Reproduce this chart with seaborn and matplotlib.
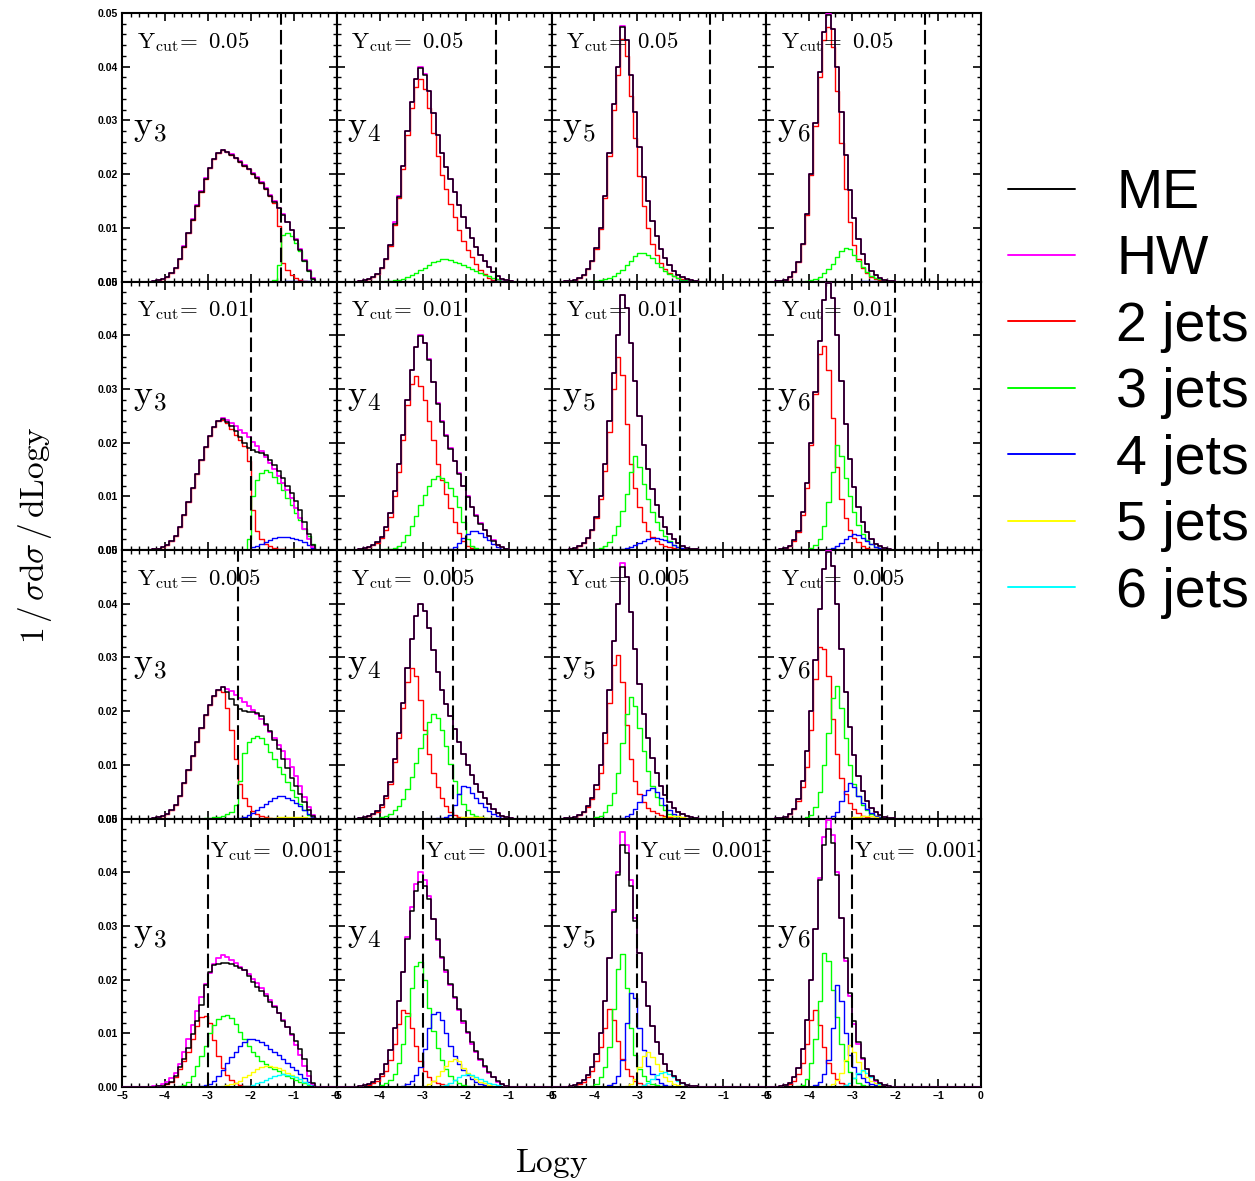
import numpy as np
import pandas as pd
import matplotlib
matplotlib.use("Agg")
import matplotlib.pyplot as plt
from matplotlib.lines import Line2D
from matplotlib.ticker import MultipleLocator, FormatStrFormatter
import seaborn as sns

# ---------------------------------------------------------------------------
# Binning: 50 bins of width 0.1 in log10(y) from -5 to 0.
# Every series below lists bin contents (units of 1e-3) starting at the
# first bin [-5.0, -4.9]; missing trailing bins are empty.
# ---------------------------------------------------------------------------
EDGES = np.round(np.linspace(-5.0, 0.0, 51), 3)
CENTERS = 0.5 * (EDGES[:-1] + EDGES[1:])

CUTS = [0.05, 0.01, 0.005, 0.001]
CUT_TEXT = ["0.05", "0.01", "0.005", "0.001"]
ORDERS = ["3", "4", "5", "6"]

SERIES_NAMES = ["ME", "HW", "2 jets", "3 jets", "4 jets", "5 jets", "6 jets"]
SERIES_COLORS = ["#000000", "#ff00ff", "#ff0000", "#00ff00", "#0000ff", "#ffff00", "#00ffff"]

# ---------------- Herwig (independent of the merging cut) ----------------
hw_y3 = [0]*7 + [0.1,0.2,0.5,0.9,1.6,2.6,4.2,6.6,9.0,11.6, 14.2,16.8,19.2,21.2,22.9,24.0,24.5,24.2,23.7,23.0,
                 22.4,21.7,21.0,20.2,19.4,18.5,17.4,16.2,15.0,13.7, 12.5,11.1,9.6,7.9,6.0,4.0,2.1,0.6]
hw_y4 = [0]*5 + [0.1,0.3,0.5,0.9,1.4,2.5,4.2,6.8,11.0,16.0, 21.5,28.0,33.5,37.8,40.0,38.6,
                 35.5,31.3,27.3,24.0,21.4,19.0,16.6,14.3,12.0,10.0, 8.1,6.5,5.0,3.8,2.7,1.8,1.0,0.5,0.2,0.05]
hw_y5 = [0]*3 + [0.05,0.15,0.3,0.7,1.3,2.3,3.8,6.2,10.0,16.0, 24.0,33.0,40.0,47.5,45.0,38.5,31.5,25.0,19.5,15.0,
                 11.3,8.4,6.1,4.3,3.0,2.0,1.3,0.8,0.45,0.25, 0.1]
hw_y6 = [0]*2 + [0.05,0.15,0.35,0.8,1.8,3.6,7.0,12.5,20.0,29.5, 39.0,46.5,49.8,47.0,40.0,31.5,23.5,17.0,11.8,8.0,
                 5.2,3.3,2.0,1.2,0.7,0.35,0.15,0.05]

# ---------------- y3 ----------------
me_y3_c050 = [0]*7 + [0.1,0.2,0.5,0.9,1.6,2.6,4.1,6.5,9.0,11.5, 14.1,16.7,19.1,21.1,22.9,24.0,24.4,24.1,23.6,23.0,
                      22.3,21.6,20.9,20.1,19.3,18.4,17.2,16.0,14.8,13.6, 12.4,11.0,9.5,7.8,5.9,3.9,2.0,0.5]
j2_y3_c050 = [0]*7 + [0.1,0.2,0.5,0.9,1.6,2.6,4.1,6.5,9.0,11.5, 14.1,16.7,19.1,21.1,22.9,24.0,24.4,24.1,23.6,23.0,
                      22.3,21.6,20.9,20.1,19.3,18.4,17.2,16.0,14.6,10.3, 3.5,2.2,1.2,0.6,0.2,0.05]
j3_y3_c050 = [0]*35 + [0.3,3.0,8.6,9.1,8.4,7.2,5.7,3.9,2.0,0.5]
j4_y3_c050 = [0]*38 + [0.05,0.1,0.1,0.1,0.1,0.05]

me_y3_c010 = [0]*7 + [0.1,0.2,0.5,0.9,1.6,2.6,4.2,6.6,9.0,11.6, 14.2,16.8,19.2,21.2,22.9,24.0,
                      24.4,23.9,23.1,22.2,21.0,20.0,19.0,18.6,18.3,18.0, 17.6,16.8,15.8,14.7,13.4,12.0,10.6,9.1,7.5,5.2,
                      3.0,0.9]
j2_y3_c010 = [0]*7 + [0.1,0.2,0.5,0.9,1.6,2.6,4.2,6.6,9.0,11.6, 14.2,16.8,19.2,21.2,22.9,24.0,
                      24.3,23.6,22.6,21.5,20.5,19.3,16.5,7.5,3.5,2.0, 1.2,0.7,0.4,0.2,0.1]
j3_y3_c010 = [0]*29 + [2.0,10.0,13.0,14.3,14.9,14.6,13.6,12.4,11.1,9.7, 8.3,6.9,5.5,4.0,2.6,1.1]
j4_y3_c010 = [0]*30 + [0.5,0.7,1.1,1.5,1.9,2.2,2.35,2.4,2.4,2.3, 2.1,1.8,1.4,0.9,0.4]
j5_y3_c010 = [0]*38 + [0.05,0.1,0.1,0.1,0.05]

me_y3_c005 = [0]*7 + [0.1,0.2,0.5,0.9,1.6,2.6,4.2,6.6,9.0,11.6, 14.2,16.8,19.2,21.2,22.9,24.0,
                      24.4,23.5,22.3,21.2,20.3,20.0,19.9,19.8,19.6,19.0, 17.6,16.3,14.7,12.9,11.0,9.4,7.6,6.0,4.5,3.0,
                      1.6,0.5]
j2_y3_c005 = [0]*7 + [0.1,0.2,0.5,0.9,1.6,2.6,4.2,6.6,9.0,11.6, 14.2,16.8,19.2,21.2,22.9,
                      24.0,23.5,20.5,16.5,11.0,6.5,3.8,2.3,1.4,0.8, 0.45,0.25,0.1]
j3_y3_c005 = [0]*19 + [0.05,0.1,0.2,0.3,0.5,0.8,1.3,2.5,7.0,12.2, 14.3,15.0,15.4,15.0,13.8,12.4,11.0,9.6,8.2,6.8,
                       5.4,4.0,2.7,1.6,0.7,0.2]
j4_y3_c005 = [0]*27 + [0.1,0.3,0.6,1.0,1.5,2.1,2.7,3.3,3.8,4.1, 4.1,3.9,3.5,2.9,2.3,1.6,0.9,0.3]
j5_y3_c005 = [0]*33 + [0.05,0.1,0.15,0.2,0.25,0.3,0.3,0.3,0.25,0.2, 0.1,0.05]

me_y3_c001 = [0]*8 + [0.1,0.2,0.5,1.0,2.0,3.7,5.3,7.3,9.8,12.3, 15.3,19.0,21.5,22.7,22.9,23.0,23.0,22.9,22.6,22.2,
                      21.7,20.6,19.6,18.7,17.8,16.9,15.9,14.9,13.7,12.3, 11.1,9.9,8.6,7.0,5.2,3.0,0.8]
j2_y3_c001 = [0]*8 + [0.1,0.2,0.5,1.0,1.9,3.3,4.8,6.6,9.0,11.3, 13.0,13.3,12.0,8.8,5.8,3.6,2.2,1.3,0.7,0.4, 0.2,0.1]
j3_y3_c001 = [0]*13 + [0.1,0.4,0.9,2.0,3.9,5.8,7.6,10.0,11.6,12.7, 13.3,13.5,12.9,11.8,10.3,8.9,7.6,6.6,5.7,4.9,
                       4.3,3.8,3.3,2.9,2.4,2.0,1.6,1.3,1.0,0.7, 0.4,0.15]
j4_y3_c001 = [0]*17 + [0.05,0.15,0.3,0.6,1.2,2.1,3.2,4.4,5.5,6.6, 7.6,8.4,8.9,9.0,8.8,8.4,7.8,7.1,6.5,5.9,
                       5.2,4.5,3.8,3.1,2.4,1.6,0.9,0.3]
j5_y3_c001 = [0]*22 + [0.05,0.15,0.3,0.5,0.8,1.2,1.8,2.3,2.8,3.3, 3.7,4.0,4.0,3.8,3.5,3.1,2.7,2.3,1.9,1.4,
                       1.0,0.6,0.2]
j6_y3_c001 = [0]*28 + [0.1,0.2,0.4,0.7,0.9,1.3,1.7,2.0,2.3,2.4, 2.3,2.1,1.8,1.4,1.0,0.6,0.2]

# ---------------- y4 ----------------
me_y4_c050 = [0]*5 + [0.1,0.3,0.5,0.9,1.4,2.5,4.2,6.8,10.8,15.8, 21.5,28.0,33.5,37.8,39.8,38.5,
                      35.5,31.3,27.3,24.0,21.4,19.0,16.6,14.3,12.0,10.0, 8.1,6.5,5.0,3.8,2.7,1.8,1.0,0.5,0.2,0.05]
j2_y4_c050 = [0]*5 + [0.1,0.3,0.5,0.9,1.4,2.5,4.1,6.7,10.6,15.5, 21.0,27.2,32.3,36.2,37.7,35.9,32.4,27.7,23.4,19.9,
                      17.3,14.5,12.0,9.6,7.6,5.8,4.5,3.3,2.2,1.4, 0.7,0.35,0.15,0.05]
j3_y4_c050 = [0]*11 + [0.05,0.1,0.2,0.3,0.5,0.8,1.15,1.6,2.1,2.6, 3.1,3.55,3.9,4.1,4.1,3.95,3.7,3.4,3.05,2.7,
                       2.35,2.0,1.65,1.3,1.0,0.7,0.4,0.15,0.05]
j4_y4_c050 = [0]*36 + [0.05,0.1,0.1,0.05]

me_y4_c010 = [0]*5 + [0.1,0.3,0.5,0.9,1.4,2.5,4.2,6.8,11.0,16.0, 21.5,28.0,33.5,37.8,39.8,38.5,
                      35.4,31.2,27.2,23.9,21.3,18.9,16.5,14.2,11.9,9.9, 8.0,6.4,4.9,3.7,2.6,1.7,1.0,0.5,0.2,0.05]
j2_y4_c010 = [0]*5 + [0.1,0.3,0.5,0.85,1.3,2.3,3.8,6.2,10.0,14.5, 20.5,27.0,31.0,32.4,30.5,28.0,24.0,20.5,16.0,13.0,
                      10.5,7.8,5.3,3.2,1.7,0.8,0.3,0.1]
j3_y4_c010 = [0]*10 + [0.05,0.1,0.2,0.4,0.8,1.5,2.8,4.5,6.4,8.4, 10.3,12.0,13.2,13.7,13.4,12.6,11.5,10.0,8.0,5.2,
                       2.0,0.8,0.3,0.1]
j4_y4_c010 = [0]*25 + [0.05,0.2,0.6,1.3,2.2,3.0,3.5,3.5,3.1,2.5, 1.8,1.1,0.6,0.2,0.05]

me_y4_c005 = [0]*5 + [0.1,0.3,0.5,0.9,1.4,2.5,4.2,6.8,11.0,16.0, 21.5,28.0,33.5,37.8,39.9,38.6,
                      35.5,31.3,27.3,24.0,21.4,19.0,16.6,14.3,12.0,10.0, 8.1,6.5,5.0,3.8,2.7,1.8,1.0,0.5,0.2,0.05]
j2_y4_c005 = [0]*5 + [0.1,0.3,0.5,0.85,1.3,2.2,3.8,6.5,10.5,15.0, 20.5,25.5,28.0,26.5,22.0,16.5,12.0,8.5,5.8,3.8,
                      2.3,1.3,0.6,0.3,0.1]
j3_y4_c005 = [0]*9 + [0.1,0.2,0.5,0.9,1.5,2.4,3.7,5.5,7.8,10.3, 13.2,15.8,18.0,19.4,18.8,16.5,13.5,10.2,7.0,4.5,
                      2.7,1.6,0.9,0.4,0.2,0.1]
j4_y4_c005 = [0]*23 + [0.05,0.1,0.2,0.6,2.5,4.5,6.0,5.8,4.8,3.8, 2.9,2.1,1.4,0.8,0.4,0.15]
j5_y4_c005 = [0]*27 + [0.05,0.1,0.2,0.3,0.35,0.3,0.25,0.15,0.1,0.05]

me_y4_c001 = [0]*5 + [0.1,0.3,0.5,0.9,1.4,2.5,4.2,6.8,11.0,16.0, 21.5,27.5,32.8,36.5,38.2,37.5,
                      35.0,31.3,27.5,24.3,21.7,19.2,16.8,14.5,12.2,10.2, 8.3,6.7,5.2,3.9,2.8,1.9,1.1,0.55,0.25,0.08]
j2_y4_c001 = [0]*5 + [0.1,0.25,0.45,0.8,1.2,2.0,3.0,5.0,8.0,11.8, 14.4,13.8,11.0,7.7,4.8,3.0,1.9,1.2,0.8,0.5,
                      0.3,0.15,0.05]
j3_y4_c001 = [0]*10 + [0.3,0.7,1.3,2.5,4.5,8.0,13.3,18.5,22.5,23.3, 20.0,14.8,10.5,7.3,5.0,3.3,2.1,1.3,0.7,0.35,
                       0.15]
j4_y4_c001 = [0]*15 + [0.2,0.5,1.1,2.2,3.8,7.0,11.0,13.6,14.0,12.5, 10.0,7.7,5.8,4.3,3.1,2.2,1.5,1.0,0.6,0.3,
                       0.1]
j5_y4_c001 = [0]*20 + [0.1,0.5,1.2,2.0,3.0,4.0,4.9,5.3,4.8,3.6, 2.7,2.0,1.5,1.0,0.7,0.45,0.25,0.1]
j6_y4_c001 = [0]*24 + [0.1,0.3,0.7,1.3,1.8,2.2,2.4,2.2,1.8,1.4, 1.1,0.8,0.5,0.3,0.15]

# ---------------- y5 ----------------
me_y5_c050 = [0]*3 + [0.05,0.15,0.3,0.7,1.3,2.3,3.8,6.2,10.0,16.0, 24.0,33.0,40.0,47.3,45.0,38.5,31.5,25.0,19.5,15.0,
                      11.3,8.4,6.1,4.3,3.0,2.0,1.3,0.8,0.45,0.25, 0.1]
j2_y5_c050 = [0]*3 + [0.05,0.15,0.3,0.7,1.3,2.3,3.8,6.1,9.8,15.6, 23.3,31.9,38.4,45.1,42.0,34.6,26.7,19.6,14.1,10.0,
                      7.0,4.9,3.4,2.3,1.6,1.0,0.7,0.45,0.25,0.15, 0.1]
j3_y5_c050 = [0]*10 + [0.1,0.2,0.4,0.7,1.1,1.6,2.2,3.0,3.9,4.8, 5.4,5.4,5.0,4.3,3.5,2.7,2.0,1.4,1.0,0.6,
                       0.35,0.2,0.1]
j4_y5_c050 = [0]*28 + [0.05,0.1,0.1,0.05]

me_y5_c010 = [0]*3 + [0.05,0.15,0.3,0.7,1.3,2.3,3.8,6.2,10.0,16.0, 24.0,33.0,40.0,47.4,45.0,38.5,31.5,25.0,19.5,15.0,
                      11.3,8.4,6.1,4.3,3.0,2.0,1.3,0.8,0.45,0.25, 0.1]
j2_y5_c010 = [0]*3 + [0.05,0.15,0.3,0.7,1.3,2.3,3.7,6.0,9.5,14.8, 22.0,30.0,36.0,32.5,23.5,16.0,11.5,8.0,5.3,3.5,
                      2.4,1.6,1.1,0.8,0.5,0.3,0.15,0.05]
j3_y5_c010 = [0]*10 + [0.2,0.4,0.8,1.5,2.8,4.5,7.2,10.5,14.5,17.5, 15.5,12.3,9.5,7.0,5.2,3.7,2.6,1.7,1.0,0.5,
                       0.2]
j4_y5_c010 = [0]*15 + [0.05,0.15,0.3,0.55,0.9,1.3,1.7,2.0,2.2,2.25, 2.1,1.8,1.4,1.0,0.6,0.3,0.1]

me_y5_c005 = [0]*3 + [0.05,0.15,0.3,0.7,1.3,2.3,3.8,6.2,10.0,16.0, 24.0,33.0,40.0,46.8,45.0,38.5,31.5,25.0,19.5,15.0,
                      11.3,8.4,6.1,4.3,3.0,2.0,1.3,0.8,0.45,0.25, 0.1]
j2_y5_c005 = [0]*3 + [0.05,0.15,0.3,0.7,1.3,2.2,3.6,5.5,8.5,14.0, 21.5,28.5,30.5,25.5,17.5,11.0,7.0,4.5,3.0,2.0,
                      1.4,1.0,0.7,0.5,0.3,0.15,0.05]
j3_y5_c005 = [0]*10 + [0.2,0.5,1.2,2.5,4.8,8.5,14.0,19.5,22.7,21.0, 16.8,12.5,8.8,6.0,4.0,2.5,1.5,0.8,0.4,0.15]
j4_y5_c005 = [0]*16 + [0.1,0.4,0.9,1.7,3.0,4.3,5.4,5.7,5.0,3.8, 2.6,1.6,0.9,0.4,0.15]
j5_y5_c005 = [0]*24 + [0.05,0.15,0.3,0.45,0.5,0.4,0.3,0.15,0.05]

me_y5_c001 = [0]*3 + [0.05,0.15,0.3,0.7,1.3,2.3,3.8,6.2,10.0,16.0, 24.0,32.5,39.5,45.0,43.5,37.5,31.0,25.0,19.5,15.0,
                      11.3,8.4,6.1,4.3,3.0,2.0,1.3,0.8,0.45,0.25, 0.1]
j2_y5_c001 = [0]*4 + [0.1,0.25,0.5,1.0,1.8,3.0,4.8,7.5,11.0,14.5, 12.5,8.5,5.2,3.3,2.0,1.2,0.7,0.35,0.15]
j3_y5_c001 = [0]*9 + [0.2,0.6,1.8,3.8,7.5,14.5,22.0,24.8,18.5,11.0, 6.0,3.4,2.0,1.1,0.6,0.3,0.1]
j4_y5_c001 = [0]*13 + [0.3,0.8,2.0,5.0,12.0,17.5,16.5,11.0,6.8,4.0, 2.4,1.4,0.8,0.4,0.2]
j5_y5_c001 = [0]*17 + [0.2,0.6,1.5,3.7,5.8,6.6,5.5,4.2,2.9,1.8, 1.1,0.6,0.3,0.1]
j6_y5_c001 = [0]*21 + [0.3,0.8,1.5,2.2,2.7,2.8,2.4,1.8,1.2,0.7, 0.3,0.1]

# ---------------- y6 ----------------
me_y6_c050 = [0]*2 + [0.05,0.15,0.35,0.8,1.8,3.6,7.0,12.5,20.0,29.5, 39.0,46.5,49.7,47.0,40.0,31.5,23.5,17.0,11.8,8.0,
                      5.2,3.3,2.0,1.2,0.7,0.35,0.15,0.05]
j2_y6_c050 = [0]*2 + [0.05,0.15,0.35,0.8,1.8,3.6,7.0,12.4,19.8,29.0, 38.1,45.0,47.4,43.7,35.5,25.8,17.2,11.0,6.8,4.2,
                      2.5,1.5,0.9,0.5,0.3,0.15,0.05]
j3_y6_c050 = [0]*9 + [0.1,0.25,0.5,0.9,1.5,2.3,3.3,4.5,5.7,6.3, 6.0,5.0,3.8,2.7,1.8,1.1,0.7,0.4,0.2,0.1]
j4_y6_c050 = [0]*22 + [0.05,0.1,0.1,0.05]

me_y6_c010 = [0]*2 + [0.05,0.15,0.35,0.8,1.8,3.6,7.0,12.5,20.0,29.5, 39.0,46.5,49.8,47.0,40.0,31.5,23.5,17.0,11.8,8.0,
                      5.2,3.3,2.0,1.2,0.7,0.35,0.15,0.05]
j2_y6_c010 = [0]*2 + [0.05,0.15,0.35,0.8,1.7,3.4,6.5,11.5,19.5,29.0, 36.5,38.0,33.5,24.5,15.5,9.5,6.0,3.8,2.3,1.4,
                      0.8,0.45,0.25,0.1]
j3_y6_c010 = [0]*10 + [0.3,0.9,2.0,4.5,9.0,14.5,19.5,17.5,13.5,10.0, 7.0,4.7,3.0,1.9,1.1,0.6,0.3,0.1]
j4_y6_c010 = [0]*14 + [0.1,0.3,0.7,1.3,2.0,2.7,3.0,2.8,2.3,1.7, 1.1,0.6,0.3,0.1]

me_y6_c005 = [0]*2 + [0.05,0.15,0.35,0.8,1.8,3.6,7.0,12.5,20.0,29.5, 39.0,46.5,49.6,47.0,40.0,31.5,23.5,17.0,11.8,8.0,
                      5.2,3.3,2.0,1.2,0.7,0.35,0.15,0.05]
j2_y6_c005 = [0]*2 + [0.05,0.15,0.35,0.8,1.7,3.3,5.8,9.5,16.5,26.0, 32.0,31.5,26.5,18.5,12.0,7.5,4.5,2.8,1.7,1.0,
                      0.5,0.25,0.1]
j3_y6_c005 = [0]*9 + [0.2,0.6,2.2,5.0,10.0,16.0,22.5,24.7,20.5,15.0, 10.0,6.5,4.2,2.6,1.5,0.9,0.5,0.2]
j4_y6_c005 = [0]*14 + [0.1,0.5,1.3,3.3,5.2,6.7,5.8,4.2,2.8,1.7, 1.0,0.5,0.2]
j5_y6_c005 = [0]*19 + [0.1,0.2,0.35,0.5,0.5,0.4,0.25,0.1]

me_y6_c001 = [0]*2 + [0.05,0.15,0.35,0.8,1.8,3.6,7.0,12.5,20.0,29.5, 38.5,45.0,48.0,45.5,39.5,31.5,24.0,17.5,12.2,8.3,
                      5.4,3.4,2.1,1.3,0.7,0.35,0.15,0.05]
j2_y6_c001 = [0]*3 + [0.1,0.25,0.6,1.2,2.4,4.5,8.0,12.5,14.4,11.5, 7.5,4.5,2.6,1.4,0.8,0.4,0.2,0.1]
j3_y6_c001 = [0]*7 + [0.1,0.4,1.5,4.5,9.0,16.0,25.0,23.5,18.0,13.0, 8.0,4.8,2.8,1.6,0.8,0.4,0.15]
j4_y6_c001 = [0]*11 + [0.3,1.0,2.5,5.0,11.0,19.0,16.0,10.0,6.0,3.8, 2.4,1.6,1.0,0.6,0.3,0.1]
j5_y6_c001 = [0]*14 + [0.2,0.6,1.3,2.6,5.0,7.8,6.5,4.6,3.0,1.9, 1.2,0.7,0.35,0.15]
j6_y6_c001 = [0]*18 + [0.3,0.8,1.6,2.6,3.2,2.6,1.8,1.1,0.6,0.3, 0.1]

# Panel table: rows follow the cut, columns follow the jet-resolution order.
HW_BY_COL = [hw_y3, hw_y4, hw_y5, hw_y6]
PANELS = [
    [  # Ycut = 0.05
        (me_y3_c050, [j2_y3_c050, j3_y3_c050, j4_y3_c050]),
        (me_y4_c050, [j2_y4_c050, j3_y4_c050, j4_y4_c050]),
        (me_y5_c050, [j2_y5_c050, j3_y5_c050, j4_y5_c050]),
        (me_y6_c050, [j2_y6_c050, j3_y6_c050, j4_y6_c050]),
    ],
    [  # Ycut = 0.01
        (me_y3_c010, [j2_y3_c010, j3_y3_c010, j4_y3_c010, j5_y3_c010]),
        (me_y4_c010, [j2_y4_c010, j3_y4_c010, j4_y4_c010]),
        (me_y5_c010, [j2_y5_c010, j3_y5_c010, j4_y5_c010]),
        (me_y6_c010, [j2_y6_c010, j3_y6_c010, j4_y6_c010]),
    ],
    [  # Ycut = 0.005
        (me_y3_c005, [j2_y3_c005, j3_y3_c005, j4_y3_c005, j5_y3_c005]),
        (me_y4_c005, [j2_y4_c005, j3_y4_c005, j4_y4_c005, j5_y4_c005]),
        (me_y5_c005, [j2_y5_c005, j3_y5_c005, j4_y5_c005, j5_y5_c005]),
        (me_y6_c005, [j2_y6_c005, j3_y6_c005, j4_y6_c005, j5_y6_c005]),
    ],
    [  # Ycut = 0.001
        (me_y3_c001, [j2_y3_c001, j3_y3_c001, j4_y3_c001, j5_y3_c001, j6_y3_c001]),
        (me_y4_c001, [j2_y4_c001, j3_y4_c001, j4_y4_c001, j5_y4_c001, j6_y4_c001]),
        (me_y5_c001, [j2_y5_c001, j3_y5_c001, j4_y5_c001, j5_y5_c001, j6_y5_c001]),
        (me_y6_c001, [j2_y6_c001, j3_y6_c001, j4_y6_c001, j5_y6_c001, j6_y6_c001]),
    ],
]

# ---------------------------------------------------------------------------
sns.set_theme(style="white")
plt.rcParams["font.family"] = ["Liberation Sans", "DejaVu Sans"]
plt.rcParams["mathtext.fontset"] = "cm"
plt.rcParams["axes.linewidth"] = 1.5
plt.rcParams["axes.edgecolor"] = "black"
plt.rcParams["text.color"] = "black"
plt.rcParams["xtick.color"] = "black"
plt.rcParams["ytick.color"] = "black"


def step_hist(ax, values, color, lw=1.0, z=2):
    h = np.zeros(len(CENTERS))
    v = np.asarray(values, dtype=float) * 1e-3
    h[:len(v)] = v
    frame = pd.DataFrame({"logy": CENTERS, "w": h})
    sns.histplot(data=frame, x="logy", weights="w", binwidth=0.1, binrange=(-5.0, 0.0),
                 element="step", fill=False, color=color, linewidth=lw, ax=ax, zorder=z)


fig = plt.figure(figsize=(12.55, 11.81), dpi=100)
L, R = 122 / 1255, 981 / 1255
B, T = 1 - 1087 / 1181, 1 - 13 / 1181
gs = fig.add_gridspec(4, 4, left=L, right=R, bottom=B, top=T, wspace=0, hspace=0)

for r in range(4):
    for c in range(4):
        ax = fig.add_subplot(gs[r, c])
        me_vals, jet_lists = PANELS[r][c]
        for k, vals in enumerate(jet_lists):
            step_hist(ax, vals, SERIES_COLORS[2 + k], lw=1.0, z=2)
        step_hist(ax, HW_BY_COL[c], SERIES_COLORS[1], lw=1.3, z=3)
        step_hist(ax, me_vals, SERIES_COLORS[0], lw=1.1, z=4)

        cut_x = np.log10(CUTS[r])
        ax.axvline(cut_x, color="black", lw=1.5, dashes=(7, 2.5), zorder=5)

        ax.set_xlim(-5, 0)
        ax.set_ylim(0, 0.05)
        ax.set_xlabel("")
        ax.set_ylabel("")
        ax.xaxis.set_major_locator(MultipleLocator(1))
        ax.xaxis.set_minor_locator(MultipleLocator(0.2))
        ax.yaxis.set_major_locator(MultipleLocator(0.01))
        ax.yaxis.set_minor_locator(MultipleLocator(0.002))
        ax.yaxis.set_major_formatter(FormatStrFormatter("%.2f"))
        ax.tick_params(which="both", direction="in", top=True, right=True,
                       bottom=True, left=True, colors="black", labelsize=7.5)
        ax.tick_params(which="major", length=6, width=1.2, pad=3)
        ax.tick_params(which="minor", length=3, width=1.0)
        ax.tick_params(labelleft=(c == 0), labelbottom=(r == 3))
        for lbl in ax.get_xticklabels() + ax.get_yticklabels():
            lbl.set_fontweight("bold")

        cut_label = r"$\mathrm{Y_{cut}\!{=}\ %s}$" % CUT_TEXT[r]
        if r < 3:
            ax.text(0.068, 0.87, cut_label, transform=ax.transAxes,
                    fontsize=16.5, va="baseline", ha="left", zorder=6)
        else:
            ax.text(cut_x + 0.05, 0.855, cut_label, transform=ax.get_xaxis_transform(),
                    fontsize=16.5, va="baseline", ha="left", zorder=6)
        ax.text(0.05, 0.545, r"$\mathrm{y}_{%s}$" % ORDERS[c], transform=ax.transAxes,
                fontsize=26, va="baseline", ha="left", zorder=6)

fig.text(35 / 1255, 1 - 535 / 1181, r"$1\,/\,\sigma\mathrm{d}\sigma\,/\,\mathrm{dLogy}$",
         rotation=90, fontsize=24, ha="center", va="center")
fig.text(552 / 1255, 1 - 1163 / 1181, r"$\mathrm{Logy}$", fontsize=24, ha="center", va="center")

handles = [Line2D([], [], color=col, lw=1.4) for col in SERIES_COLORS]
fig.legend(handles, SERIES_NAMES, loc="upper left", bbox_to_anchor=(1008 / 1255, 1 - 168 / 1181),
           frameon=False, fontsize=40, handlelength=1.2, handletextpad=0.75,
           labelspacing=0.26, borderaxespad=0, borderpad=0, labelcolor="black")

fig.savefig("out.png", dpi=100)
